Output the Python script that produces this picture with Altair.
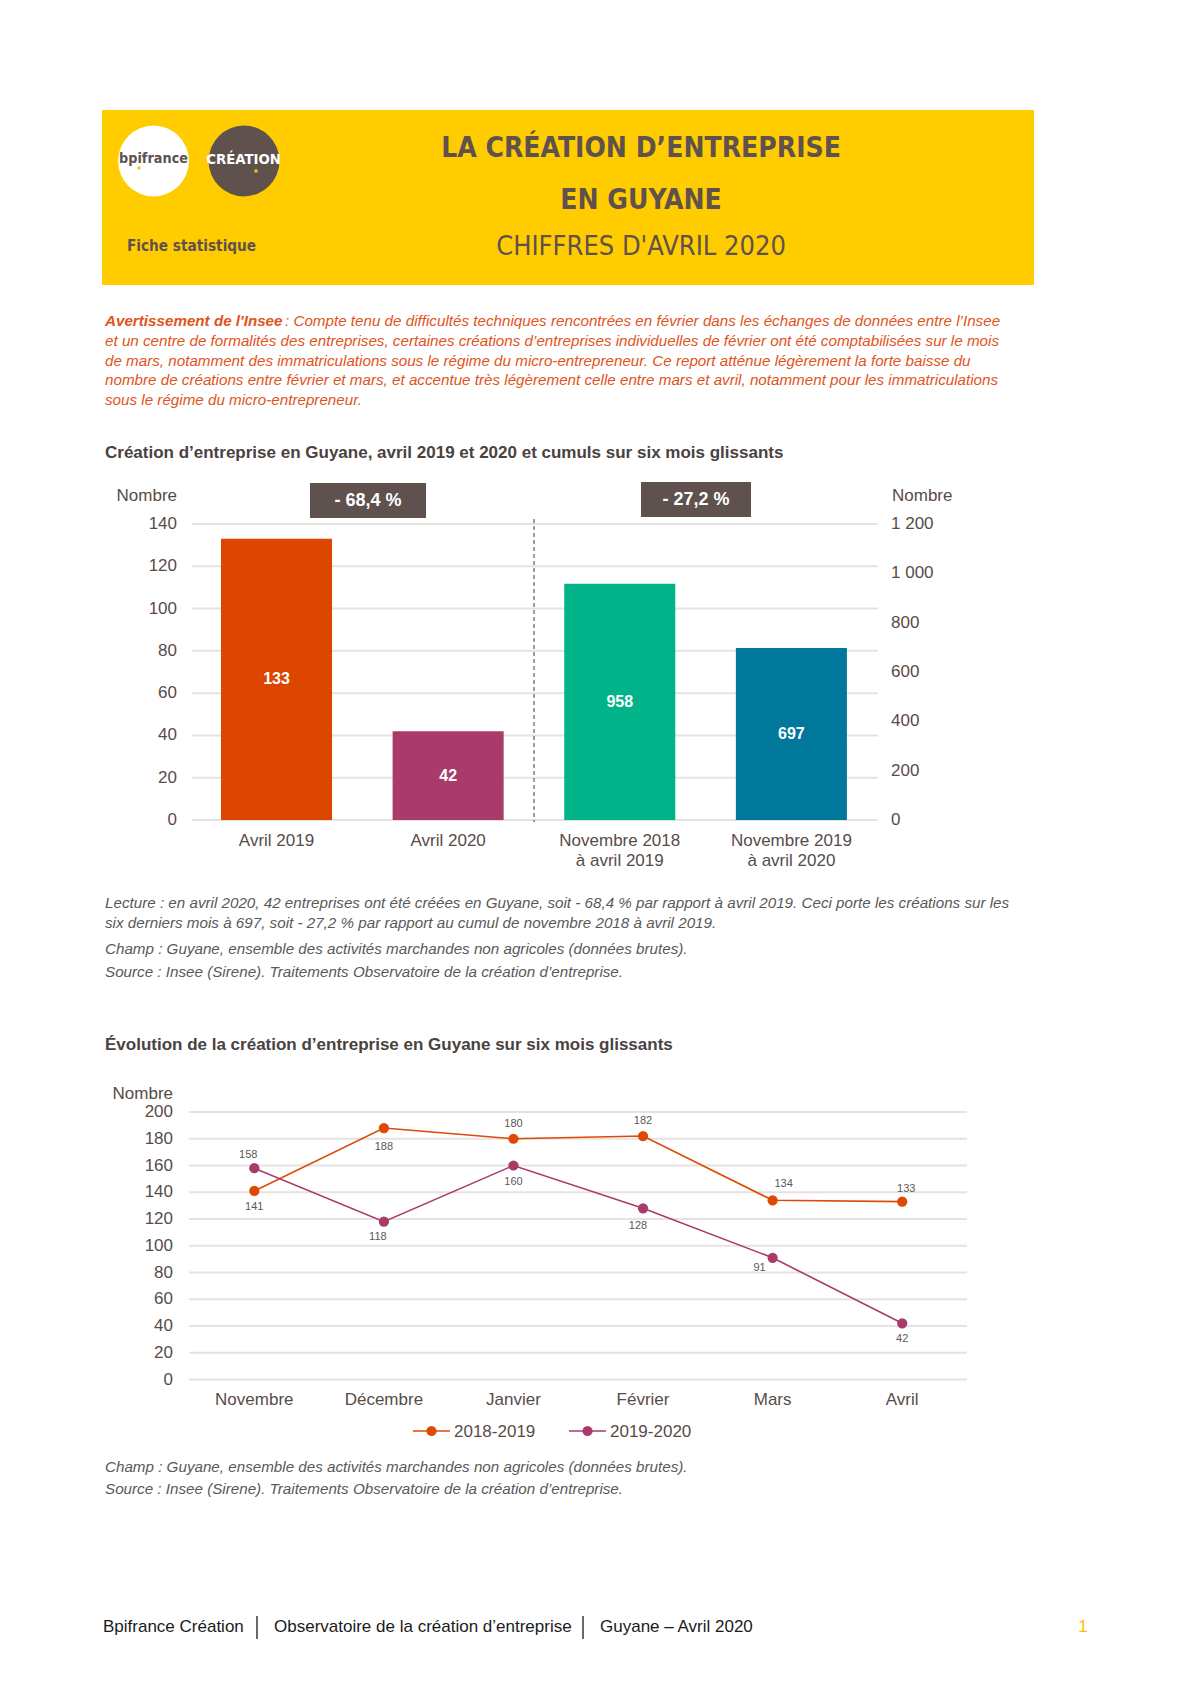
import altair as alt
import pandas as pd

# ------------------------------------------------------------------ data
BAR_MONTH_CATS = ["Avril 2019", "Avril 2020"]
BAR_MONTH_VALUES = [133, 42]
BAR_CUMUL_CATS = ["Novembre 2018\nà avril 2019", "Novembre 2019\nà avril 2020"]
BAR_CUMUL_VALUES = [958, 697]
BAR_CHANGES = ["- 68,4 %", "- 27,2 %"]
LEFT_TICKS = [0, 20, 40, 60, 80, 100, 120, 140]
RIGHT_TICKS = [0, 200, 400, 600, 800, 1000, 1200]
RIGHT_TICK_LABELS = ["0", "200", "400", "600", "800", "1 000", "1 200"]

MONTHS = ["Novembre", "Décembre", "Janvier", "Février", "Mars", "Avril"]
SERIES = ["2018-2019", "2019-2020"]
VALUES_2018_2019 = [141, 188, 180, 182, 134, 133]
VALUES_2019_2020 = [158, 118, 160, 128, 91, 42]
LINE_TICKS = [0, 20, 40, 60, 80, 100, 120, 140, 160, 180, 200]

# ------------------------------------------------------------------ styles
BAR_COLORS = ["#dc4600", "#a83b6a", "#00b388", "#00789c"]
SERIES_COLORS = ["#dd4a05", "#a83b6a"]
LABEL_POS_2018_2019 = ["below", "below2", "above", "above", "above_right", "above_r"]
LABEL_POS_2019_2020 = ["above_l", "below_l", "below", "below_l2", "below_left", "below"]
LABEL_OFFSETS = {
    "above": (0, -15), "above_r": (4, -13), "above_l": (-6, -13), "above_right": (11, -16),
    "below": (0, 16), "below2": (0, 19), "below_l": (-6, 15), "below_l2": (-5, 18),
    "below_left": (-13, 10),
}
YELLOW = "#ffcc00"
BROWN = "#5f514e"
AXIS_TXT = "#574c49"
NOTE_TXT = "#595959"
WARN = "#e2531b"
GRID = "#e6e2e1"
SANS = "Liberation Sans, Arial, sans-serif"
NARROW = "Liberation Sans Narrow, DejaVu Sans Condensed, Liberation Sans, sans-serif"

OFF = 8  # page margin


def X(v):
    return v - OFF


def Y(v):
    return v - OFF


ONE = pd.DataFrame({"k": [0]})
layers = []


def txt(s, x, y, size=15.2, color=NOTE_TXT, font=SANS, weight="normal", style="normal",
        align="left", baseline="middle"):
    layers.append(
        alt.Chart(ONE).mark_text(text=s, fontSize=size, color=color, font=font, fontWeight=weight,
                                 fontStyle=style, align=align, baseline=baseline)
        .encode(x=alt.value(X(x)), y=alt.value(Y(y)))
    )


def rect(x1, x2, y1, y2, color):
    layers.append(
        alt.Chart(ONE).mark_rect(color=color)
        .encode(x=alt.value(X(x1)), x2=alt.value(X(x2)), y=alt.value(Y(y1)), y2=alt.value(Y(y2)))
    )


def dot(x, y, size, color):
    layers.append(
        alt.Chart(ONE).mark_circle(size=size, color=color, opacity=1)
        .encode(x=alt.value(X(x)), y=alt.value(Y(y)))
    )


def hrule(x1, x2, y, color, width=1.5, dash=None):
    kw = dict(color=color, strokeWidth=width)
    if dash:
        kw["strokeDash"] = dash
    layers.append(alt.Chart(ONE).mark_rule(**kw)
                  .encode(x=alt.value(X(x1)), x2=alt.value(X(x2)), y=alt.value(Y(y))))


def vrule(x, y1, y2, color, width=1.0, dash=None):
    kw = dict(color=color, strokeWidth=width)
    if dash:
        kw["strokeDash"] = dash
    layers.append(alt.Chart(ONE).mark_rule(**kw)
                  .encode(x=alt.value(X(x)), y=alt.value(Y(y1)), y2=alt.value(Y(y2))))


# ------------------------------------------------------------------ header
rect(102, 1034, 110, 285, YELLOW)
dot(153.5, 161, 5027, "white")
dot(244, 161, 5027, BROWN)
txt("bpifrance", 153.5, 159, size=14.3, color=BROWN, font=NARROW, weight="bold", align="center")
dot(139, 168, 12, YELLOW)
txt("CRÉATION", 243.5, 160, size=14.8, color="white", font=NARROW, weight="bold", align="center")
dot(256, 171, 12, YELLOW)
txt("Fiche statistique", 127, 246, size=15.2, color=BROWN, font=NARROW, weight="bold")
txt("LA CRÉATION D’ENTREPRISE", 641, 149, size=28, color=BROWN, font=NARROW, weight="bold", align="center")
txt("EN GUYANE", 641, 201, size=28, color=BROWN, font=NARROW, weight="bold", align="center")
txt("CHIFFRES D'AVRIL 2020", 641, 247, size=27, color=BROWN, font=NARROW, align="center")

# ------------------------------------------------------------------ warning
txt("Avertissement de l'Insee", 105, 321, size=15.2, color=WARN, weight="bold", style="italic")
txt(": Compte tenu de difficultés techniques rencontrées en février dans les échanges de données entre l’Insee",
    285, 321, size=15.2, color=WARN, style="italic")
WARN_LINES = [
    "et un centre de formalités des entreprises, certaines créations d’entreprises individuelles de février ont été comptabilisées sur le mois",
    "de mars, notamment des immatriculations sous le régime du micro-entrepreneur. Ce report atténue légèrement la forte baisse du",
    "nombre de créations entre février et mars, et accentue très légèrement celle entre mars et avril, notamment pour les immatriculations",
    "sous le régime du micro-entrepreneur.",
]
for i, line in enumerate(WARN_LINES):
    txt(line, 105, 341 + i * 19.6, size=15.2, color=WARN, style="italic")

# ------------------------------------------------------------------ bar chart
txt("Création d’entreprise en Guyane, avril 2019 et 2020 et cumuls sur six mois glissants",
    105, 453, size=17, color="#4a4240", weight="bold")

ALL_BAR_CATS = BAR_MONTH_CATS + BAR_CUMUL_CATS
bar_x = alt.Scale(domain=ALL_BAR_CATS, range=[X(190.7), X(877.2)], paddingInner=0.353, paddingOuter=0.1765)
left_y = alt.Scale(domain=[0, 140], range=[Y(820), Y(524)], nice=False)
right_y = alt.Scale(domain=[0, 1200], range=[Y(820), Y(524)], nice=False)
bar_color = alt.Scale(domain=ALL_BAR_CATS, range=BAR_COLORS)

left_ticks_df = pd.DataFrame({"t": LEFT_TICKS})
right_ticks_df = pd.DataFrame({"t": RIGHT_TICKS, "lab": RIGHT_TICK_LABELS})
month_df = pd.DataFrame({"cat": BAR_MONTH_CATS, "v": BAR_MONTH_VALUES})
cumul_df = pd.DataFrame({"cat": BAR_CUMUL_CATS, "v": BAR_CUMUL_VALUES})
cats_df = pd.DataFrame({"cat": ALL_BAR_CATS})

layers.append(
    alt.Chart(left_ticks_df).mark_rule(color=GRID, strokeWidth=2)
    .encode(y=alt.Y("t:Q", scale=left_y, axis=None), x=alt.value(X(192)), x2=alt.value(X(878)))
)
layers.append(
    alt.Chart(left_ticks_df).mark_text(align="right", baseline="middle", fontSize=17, font=SANS, color=AXIS_TXT)
    .encode(y=alt.Y("t:Q", scale=left_y, axis=None), x=alt.value(X(177)), text="t:Q")
)
layers.append(
    alt.Chart(right_ticks_df).mark_text(align="left", baseline="middle", fontSize=17, font=SANS, color=AXIS_TXT)
    .encode(y=alt.Y("t:Q", scale=right_y, axis=None), x=alt.value(X(891)), text="lab:N")
)
txt("Nombre", 177, 496, size=17, color=AXIS_TXT, align="right")
txt("Nombre", 892, 496, size=17, color=AXIS_TXT)

layers.append(
    alt.Chart(month_df).mark_bar()
    .encode(x=alt.X("cat:N", scale=bar_x, axis=None),
            y=alt.Y("v:Q", scale=left_y, axis=None),
            color=alt.Color("cat:N", scale=bar_color, legend=None))
)
layers.append(
    alt.Chart(cumul_df).mark_bar()
    .encode(x=alt.X("cat:N", scale=bar_x, axis=None),
            y=alt.Y("v:Q", scale=right_y, axis=None),
            color=alt.Color("cat:N", scale=bar_color, legend=None))
)
layers.append(
    alt.Chart(month_df).transform_calculate(mid="datum.v / 2")
    .mark_text(color="white", fontWeight="bold", fontSize=16, font=SANS, baseline="middle")
    .encode(x=alt.X("cat:N", scale=bar_x, axis=None), y=alt.Y("mid:Q", scale=left_y, axis=None), text="v:Q")
)
layers.append(
    alt.Chart(cumul_df).transform_calculate(mid="datum.v / 2")
    .mark_text(color="white", fontWeight="bold", fontSize=16, font=SANS, baseline="middle")
    .encode(x=alt.X("cat:N", scale=bar_x, axis=None), y=alt.Y("mid:Q", scale=right_y, axis=None), text="v:Q")
)
layers.append(
    alt.Chart(cats_df).mark_text(fontSize=17, font=SANS, color=AXIS_TXT, baseline="top", lineBreak="\n",
                                 lineHeight=19.7)
    .encode(x=alt.X("cat:N", scale=bar_x, axis=None), y=alt.value(Y(833)), text="cat:N")
)
vrule(534, 519, 822, "#3a3a3a", width=1, dash=[4, 3])
rect(310, 426, 483, 518, BROWN)
txt(BAR_CHANGES[0], 368, 501, size=18, color="white", weight="bold", align="center")
rect(641, 751, 482, 517, BROWN)
txt(BAR_CHANGES[1], 696, 500, size=18, color="white", weight="bold", align="center")

# ------------------------------------------------------------------ notes chart 1
txt("Lecture : en avril 2020, 42 entreprises ont été créées en Guyane, soit - 68,4 % par rapport à avril 2019. Ceci porte les créations sur les",
    105, 903, style="italic")
txt("six derniers mois à 697, soit - 27,2 % par rapport au cumul de novembre 2018 à avril 2019.",
    105, 922.5, style="italic")
txt("Champ : Guyane, ensemble des activités marchandes non agricoles (données brutes).", 105, 948.5, style="italic")
txt("Source : Insee (Sirene). Traitements Observatoire de la création d’entreprise.", 105, 971.5, style="italic")

# ------------------------------------------------------------------ line chart
txt("Évolution de la création d’entreprise en Guyane sur six mois glissants",
    105, 1045, size=17, color="#4a4240", weight="bold")

line_x = alt.Scale(type="point", domain=MONTHS, range=[X(189.5), X(967)], padding=0.5)
line_y = alt.Scale(domain=[0, 200], range=[Y(1379.5), Y(1112)], nice=False)
line_color = alt.Scale(domain=SERIES, range=SERIES_COLORS)

line_ticks_df = pd.DataFrame({"t": LINE_TICKS})
months_df = pd.DataFrame({"m": MONTHS})
line_df = pd.DataFrame({
    "m": MONTHS * 2,
    "v": VALUES_2018_2019 + VALUES_2019_2020,
    "s": [SERIES[0]] * len(MONTHS) + [SERIES[1]] * len(MONTHS),
    "pos": LABEL_POS_2018_2019 + LABEL_POS_2019_2020,
})

layers.append(
    alt.Chart(line_ticks_df).mark_rule(color=GRID, strokeWidth=2)
    .encode(y=alt.Y("t:Q", scale=line_y, axis=None), x=alt.value(X(189)), x2=alt.value(X(967)))
)
layers.append(
    alt.Chart(line_ticks_df).mark_text(align="right", baseline="middle", fontSize=17, font=SANS, color=AXIS_TXT)
    .encode(y=alt.Y("t:Q", scale=line_y, axis=None), x=alt.value(X(173)), text="t:Q")
)
txt("Nombre", 173, 1094, size=17, color=AXIS_TXT, align="right")
layers.append(
    alt.Chart(months_df).mark_text(fontSize=17, font=SANS, color=AXIS_TXT, baseline="middle")
    .encode(x=alt.X("m:N", scale=line_x, axis=None), y=alt.value(Y(1400)), text="m:N")
)
layers.append(
    alt.Chart(line_df).mark_line(strokeWidth=1.6)
    .encode(x=alt.X("m:N", scale=line_x, axis=None), y=alt.Y("v:Q", scale=line_y, axis=None),
            color=alt.Color("s:N", scale=line_color, legend=None))
)
layers.append(
    alt.Chart(line_df).mark_circle(size=105, opacity=1)
    .encode(x=alt.X("m:N", scale=line_x, axis=None), y=alt.Y("v:Q", scale=line_y, axis=None),
            color=alt.Color("s:N", scale=line_color, legend=None))
)
for pos, (ddx, ddy) in LABEL_OFFSETS.items():
    layers.append(
        alt.Chart(line_df).transform_filter(alt.datum.pos == pos)
        .mark_text(fontSize=11, font=SANS, color=NOTE_TXT, baseline="middle", dx=ddx, dy=ddy)
        .encode(x=alt.X("m:N", scale=line_x, axis=None), y=alt.Y("v:Q", scale=line_y, axis=None), text="v:Q")
    )

# legend
hrule(413, 450, 1431, SERIES_COLORS[0], width=1.6)
dot(431.5, 1431, 105, SERIES_COLORS[0])
txt(SERIES[0], 454, 1432, size=17, color=AXIS_TXT)
hrule(569, 606, 1431, SERIES_COLORS[1], width=1.6)
dot(587.5, 1431, 105, SERIES_COLORS[1])
txt(SERIES[1], 610, 1432, size=17, color=AXIS_TXT)

txt("Champ : Guyane, ensemble des activités marchandes non agricoles (données brutes).", 105, 1467, style="italic")
txt("Source : Insee (Sirene). Traitements Observatoire de la création d’entreprise.", 105, 1488.5, style="italic")

# ------------------------------------------------------------------ footer
FOOT = "#1a1a1a"
txt("Bpifrance Création", 103, 1627, size=17, color=FOOT)
vrule(257, 1616, 1639, FOOT, width=1.3)
txt("Observatoire de la création d’entreprise", 274, 1627, size=17, color=FOOT)
vrule(583, 1616, 1639, FOOT, width=1.3)
txt("Guyane – Avril 2020", 600, 1627, size=17, color=FOOT)
txt("1", 1083, 1627, size=17, color="#ffc000", align="center")

chart = (
    alt.layer(*layers)
    .resolve_scale(x="independent", y="independent", color="independent")
    .properties(width=1175, height=1668, padding=0, autosize=alt.AutoSizeParams(type="none"))
    .configure_view(stroke=None)
)
chart.save("out.html", embed_options={"renderer": "svg", "actions": False})
